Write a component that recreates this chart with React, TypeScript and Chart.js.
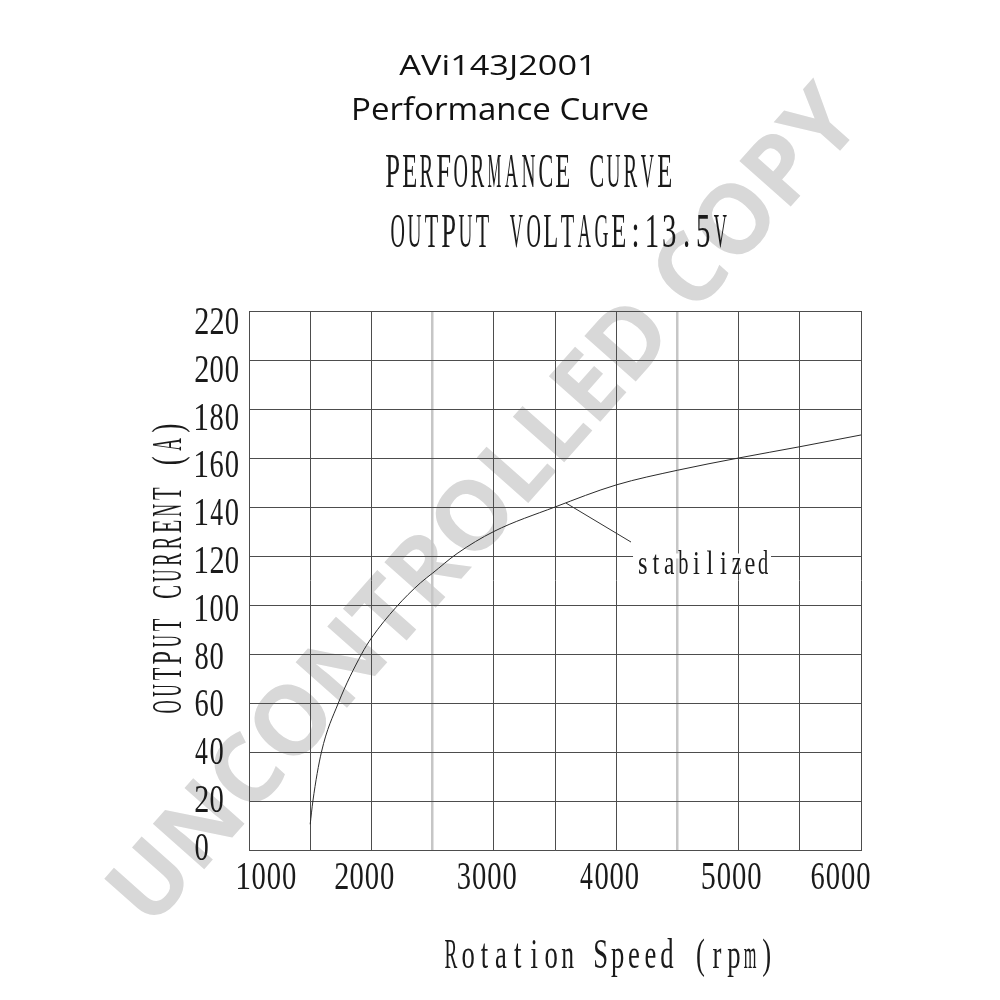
import React, { useEffect, useRef } from "react";
import { Chart, registerables } from "chart.js";

Chart.register(...registerables);

// ---- data ----
const speedRpm = [1500, 1522, 1592, 1730, 1920, 2000, 2200, 2400, 2500, 2700, 3000, 3500, 4000, 4500, 5000, 5500, 6000];
const currentA = [10.5, 20, 40, 60, 80, 86.5, 99, 109, 113, 121, 130, 140, 149, 155, 160, 164.6, 169.4];

const xTicks = [1000, 2000, 3000, 4000, 5000, 6000];
const yTicks = [0, 20, 40, 60, 80, 100, 120, 140, 160, 180, 200, 220];

const titleLines = ["AVi143J2001", "Performance Curve"];
const subtitleLines = ["PERFORMANCE CURVE", "OUTPUT VOLTAGE:13.5V"];
const xAxisTitle = "Rotation Speed (rpm)";
const yAxisTitle = "OUTPUT CURRENT (A)";
const watermarkText = "UNCONTROLLED COPY";

const noteText = "stabilized";
const noteFrom = [3590, 141.6];
const noteTo = [4121, 125.7];
const noteLabelAt = [4162, 112.7];

const SERIF = "'Liberation Serif', 'DejaVu Serif', 'Times New Roman', serif";
const SANS = "'Open Sans', 'Noto Sans', 'DejaVu Sans', sans-serif";

type CellOpts = { font: number; pitch: number; ink: number; maxSx: number };

function drawCells(ctx: CanvasRenderingContext2D, text: string, x0: number, baseline: number, o: CellOpts) {
  ctx.save();
  ctx.font = `${o.font}px ${SERIF}`;
  ctx.textAlign = "left";
  ctx.textBaseline = "alphabetic";
  ctx.fillStyle = "#1a1a1a";
  for (let i = 0; i < text.length; i++) {
    const ch = text[i];
    if (ch === " ") continue;
    const m = ctx.measureText(ch);
    const l = m.actualBoundingBoxLeft;
    const r = m.actualBoundingBoxRight;
    const w = Math.max(l + r, 0.1);
    const sx = Math.min(o.maxSx, o.ink / w);
    const cx = x0 + (i + 0.5) * o.pitch;
    const inkCenter = (r - l) / 2;
    ctx.save();
    ctx.translate(cx, baseline);
    ctx.scale(sx, 1);
    ctx.fillText(ch, -inkCenter, 0);
    ctx.restore();
  }
  ctx.restore();
}

function drawFitted(ctx: CanvasRenderingContext2D, text: string, cx: number, baseline: number, font: string, width: number) {
  ctx.save();
  ctx.font = font;
  ctx.textAlign = "center";
  ctx.textBaseline = "alphabetic";
  ctx.fillStyle = "#111";
  const m = ctx.measureText(text);
  const natural = m.actualBoundingBoxLeft + m.actualBoundingBoxRight;
  const sx = width / natural;
  ctx.translate(cx, baseline);
  ctx.scale(sx, 1);
  ctx.fillText(text, 0, 0);
  ctx.restore();
}

const backgroundPlugin = {
  id: "bgWatermark",
  beforeDraw(chart: any) {
    const ctx: CanvasRenderingContext2D = chart.ctx;
    ctx.save();
    ctx.fillStyle = "#ffffff";
    ctx.fillRect(0, 0, chart.width, chart.height);
    ctx.font = `bold 96px ${SANS}`;
    ctx.fillStyle = "#d8d8d8";
    ctx.textAlign = "center";
    ctx.textBaseline = "alphabetic";
    const m = ctx.measureText(watermarkText);
    const natural = m.actualBoundingBoxLeft + m.actualBoundingBoxRight;
    const sx = 1070 / natural;
    ctx.translate(482, 504);
    ctx.rotate((-48.5 * Math.PI) / 180);
    ctx.scale(sx, 1);
    ctx.fillText(watermarkText, 0, 34);
    ctx.restore();
  },
};

const textPlugin = {
  id: "texts",
  afterDraw(chart: any) {
    const ctx: CanvasRenderingContext2D = chart.ctx;
    const xs = chart.scales.x;
    const ys = chart.scales.y;

    // titles
    drawFitted(ctx, titleLines[0], 498, 75, `28px ${SANS}`, 190);
    drawFitted(ctx, titleLines[1], 500, 119.5, `31.5px ${SANS}`, 294);

    const head: CellOpts = { font: 48, pitch: 17, ink: 13.3, maxSx: 0.6 };
    drawCells(ctx, subtitleLines[0], 384, 187, head);
    drawCells(ctx, subtitleLines[1], 389, 247, head);

    // tick labels
    const tick: CellOpts = { font: 39.5, pitch: 15.2, ink: 13, maxSx: 0.8 };
    xTicks.forEach((v, i) => {
      const label = String(v);
      const w = label.length * tick.pitch;
      const px = xs.getPixelForValue(v);
      let x0 = px - 7 - w / 2;
      if (i === 0) x0 = px - 13;
      if (i === xTicks.length - 1) x0 = px + 10 - w;
      drawCells(ctx, label, x0, 888.5, tick);
    });
    yTicks.forEach((v) => {
      const py = ys.getPixelForValue(v);
      const center = py - 3.5 + 0.06 * v;
      drawCells(ctx, String(v), 194, center + 13.3, tick);
    });

    // axis titles
    const axis: CellOpts = { font: 43, pitch: 16.6, ink: 12.5, maxSx: 0.62 };
    drawCells(ctx, xAxisTitle, 609 - (xAxisTitle.length * axis.pitch) / 2, 968, axis);
    ctx.save();
    const yAxisOpts: CellOpts = { font: 43, pitch: 16.4, ink: 12.5, maxSx: 0.62 };
    const len = yAxisTitle.length * yAxisOpts.pitch;
    ctx.translate(181, 567.5 + len / 2);
    ctx.rotate(-Math.PI / 2);
    drawCells(ctx, yAxisTitle, 0, 0, yAxisOpts);
    ctx.restore();

    // annotation
    const ax1 = xs.getPixelForValue(noteFrom[0]);
    const ay1 = ys.getPixelForValue(noteFrom[1]);
    const ax2 = xs.getPixelForValue(noteTo[0]);
    const ay2 = ys.getPixelForValue(noteTo[1]);
    ctx.save();
    ctx.strokeStyle = "#333";
    ctx.lineWidth = 1;
    ctx.beginPath();
    ctx.moveTo(ax1, ay1);
    ctx.lineTo(ax2, ay2);
    ctx.stroke();
    ctx.restore();

    const note: CellOpts = { font: 34, pitch: 13.4, ink: 9.6, maxSx: 0.72 };
    const lx = xs.getPixelForValue(noteLabelAt[0]);
    const lb = ys.getPixelForValue(noteLabelAt[1]);
    const gy = ys.getPixelForValue(120);
    ctx.save();
    ctx.fillStyle = "#ffffff";
    ctx.fillRect(lx - 3, gy - 2.5, noteText.length * note.pitch + 4, 5);
    ctx.restore();
    drawCells(ctx, noteText, lx, lb, note);
  },
};

export default function App() {
  const ref = useRef<HTMLCanvasElement | null>(null);

  useEffect(() => {
    if (!ref.current) return;
    const isLight = (c: any) => c.tick && (c.tick.value === 2500 || c.tick.value === 4500);
    const chart = new Chart(ref.current, {
      type: "line",
      data: {
        datasets: [
          {
            data: speedRpm.map((x, i) => ({ x, y: currentA[i] })),
            borderColor: "#2b2b2b",
            borderWidth: 1,
            pointRadius: 0,
            fill: false,
            cubicInterpolationMode: "monotone",
          },
        ],
      },
      options: {
        responsive: false,
        animation: false,
        layout: { padding: { left: 249, right: 139, top: 311, bottom: 150 } },
        plugins: {
          legend: { display: false },
          tooltip: { enabled: false },
          title: { display: false },
        },
        scales: {
          x: {
            type: "linear",
            min: 1000,
            max: 6000,
            ticks: { display: false, stepSize: 500 },
            grid: {
              drawTicks: false,
              color: (c: any) => (isLight(c) ? "#c6c6c6" : "#4d4d4d"),
              lineWidth: (c: any) => (isLight(c) ? 2.5 : 1),
            },
            border: { display: true, color: "#4d4d4d", width: 1 },
          },
          y: {
            type: "linear",
            min: 0,
            max: 220,
            ticks: { display: false, stepSize: 20 },
            grid: { drawTicks: false, color: "#4d4d4d", lineWidth: 1 },
            border: { display: true, color: "#4d4d4d", width: 1 },
          },
        },
      },
      plugins: [backgroundPlugin, textPlugin],
    } as any);
    return () => chart.destroy();
  }, []);

  return (
    <div style={{ position: "absolute", left: 0, top: 0, width: 1000, height: 1000, background: "#fff" }}>
      <canvas ref={ref} width={1000} height={1000} style={{ display: "block", width: 1000, height: 1000 }} />
    </div>
  );
}
